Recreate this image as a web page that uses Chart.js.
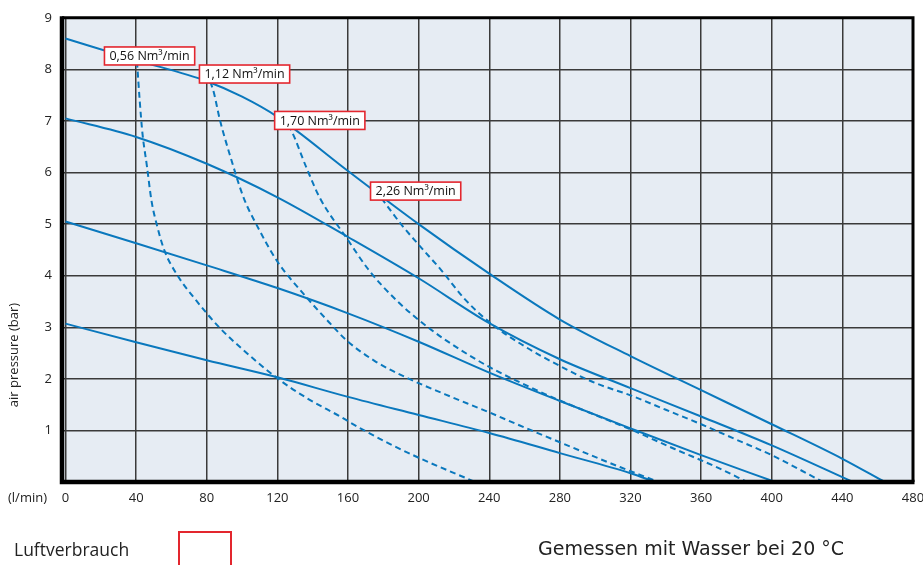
<!DOCTYPE html>
<html lang="de">
<head>
<meta charset="UTF-8">
<title>Kennlinie</title>
<script src="https://cdn.jsdelivr.net/npm/chart.js"></script>
<style>
  html, body { margin: 0; padding: 0; background: #fff; }
  #wrap { position: relative; width: 923px; height: 565px; overflow: hidden; }
  #curveChart { position: absolute; left: 0; top: 0; }
  .note { position: absolute; color: #222; white-space: nowrap; }
</style>
</head>
<body>
<div id="wrap">
  <canvas id="curveChart" width="923" height="565"></canvas>
  <div class="note" style="left:14px; top:537px; font: 17.5px 'Open Sans', sans-serif;">Luftverbrauch</div>
  <div style="position:absolute; left:178px; top:531px; width:50px; height:50px; border:2px solid #e3262e;"></div>
  <div class="note" style="left:538px; top:537px; font: 19px 'DejaVu Sans', sans-serif;">Gemessen mit Wasser bei 20 °C</div>
</div>

<script>
// axis ticks
const flowTicks = [0, 40, 80, 120, 160, 200, 240, 280, 320, 360, 400, 440, 480];
const barTicks = [0, 1, 2, 3, 4, 5, 6, 7, 8, 9];

// solid pressure curves (flow l/min -> bar)
const p86Flow = [0, 40, 80, 100, 120, 160, 200, 240, 280, 320, 360, 400, 440, 464];
const p86Bar  = [8.6, 8.18, 7.77, 7.47, 7.08, 6.03, 5.0, 4.04, 3.15, 2.44, 1.78, 1.12, 0.45, 0];

const p70Flow = [0, 40, 80, 120, 160, 200, 240, 280, 320, 360, 400, 446];
const p70Bar  = [7.05, 6.69, 6.17, 5.52, 4.75, 3.95, 3.08, 2.38, 1.82, 1.27, 0.71, 0];

const p50Flow = [0, 40, 80, 120, 160, 200, 240, 280, 320, 360, 402];
const p50Bar  = [5.05, 4.63, 4.2, 3.76, 3.27, 2.72, 2.12, 1.57, 1.04, 0.52, 0];

const p30Flow = [0, 40, 80, 120, 160, 200, 240, 280, 320, 334];
const p30Bar  = [3.07, 2.71, 2.36, 2.03, 1.65, 1.3, 0.95, 0.56, 0.17, 0];

// dashed air consumption curves
const air056Flow = [40.5, 42, 43.6, 46, 48.7, 51.6, 56, 63.5, 74, 87, 100, 120, 137, 155, 167, 183, 199.4, 232];
const air056Bar  = [8.15, 7.4, 6.75, 6.15, 5.45, 5.0, 4.49, 4.0, 3.52, 3.0, 2.58, 2.01, 1.62, 1.28, 1.04, 0.75, 0.48, 0];

const air112Flow = [82, 84, 87.3, 93, 101, 108, 119.5, 136.5, 150, 159, 175, 194, 215, 240, 257, 280, 314, 336];
const air112Bar  = [7.76, 7.55, 7.04, 6.35, 5.5, 5.0, 4.3, 3.58, 3.07, 2.75, 2.35, 2.01, 1.7, 1.35, 1.1, 0.77, 0.29, 0];

const air170Flow = [122, 127, 136.5, 144, 159, 172, 187.5, 206, 222, 240, 263, 280, 300, 320, 345, 370, 386];
const air170Bar  = [7.05, 6.87, 6.09, 5.51, 4.74, 4.1, 3.52, 2.98, 2.6, 2.23, 1.84, 1.58, 1.3, 1.02, 0.64, 0.27, 0];

const air226Flow = [179, 190, 200, 213, 226, 240, 261, 280, 300, 320, 340, 360, 380, 400, 429];
const air226Bar  = [5.5, 5.0, 4.6, 4.1, 3.55, 3.1, 2.61, 2.25, 1.92, 1.68, 1.4, 1.12, 0.82, 0.52, 0];

// consumption labels (anchored in data units)
const airLabels = ['0,56', '1,12', '1,70', '2,26'];
const airLabelFlow = [47.6, 101.4, 144, 198.3];
const airLabelBar = [8.26, 7.91, 7.01, 5.64];

const blue = '#0a78bd';
const axisFont = "'Open Sans', 'Noto Sans', sans-serif";

function pts(xs, ys) {
    return xs.map((v, i) => ({ x: v, y: ys[i] }));
}

function curve(xs, ys, dashed) {
    return {
        data: pts(xs, ys),
        borderColor: blue,
        borderWidth: 2,
        borderDash: dashed ? [6, 4] : [],
        pointRadius: 0,
        cubicInterpolationMode: 'monotone',
        fill: false
    };
}

const frame = {
    id: 'frame',
    beforeDraw(chart) {
        const { ctx, chartArea: a } = chart;
        ctx.save();
        ctx.fillStyle = '#e6ecf3';
        ctx.fillRect(a.left, a.top, a.right - a.left, a.bottom - a.top);
        ctx.restore();
    },
    afterDatasetsDraw(chart) {
        const { ctx, chartArea: a, scales } = chart;
        ctx.save();
        // frame: thicker on left and bottom
        ctx.strokeStyle = '#000';
        ctx.lineWidth = 3;
        ctx.beginPath();
        ctx.moveTo(a.left, a.top);
        ctx.lineTo(a.right, a.top);
        ctx.lineTo(a.right, a.bottom);
        ctx.stroke();
        ctx.lineWidth = 4.5;
        ctx.beginPath();
        ctx.moveTo(a.left, a.top - 1.5);
        ctx.lineTo(a.left, a.bottom);
        ctx.lineTo(a.right + 1.5, a.bottom);
        ctx.stroke();

        // red framed labels
        ctx.font = "12.5px 'Open Sans', sans-serif";
        ctx.textAlign = 'center';
        ctx.textBaseline = 'middle';
        airLabels.forEach((t, i) => {
            const txt = t + ' Nm³/min';
            const px = scales.x.getPixelForValue(airLabelFlow[i]);
            const py = scales.y.getPixelForValue(airLabelBar[i]);
            const w = ctx.measureText(txt).width + 10;
            const h = 18;
            ctx.fillStyle = '#fff';
            ctx.fillRect(px - w / 2, py - h / 2, w, h);
            ctx.strokeStyle = '#e3262e';
            ctx.lineWidth = 1.6;
            ctx.strokeRect(px - w / 2, py - h / 2, w, h);
            ctx.fillStyle = '#111';
            ctx.fillText(txt, px, py + 0.5);
        });
        ctx.restore();
    },
    afterDraw(chart) {
        const { ctx, chartArea: a, scales } = chart;
        ctx.save();
        ctx.fillStyle = '#222';
        ctx.font = '13px ' + axisFont;
        ctx.textBaseline = 'middle';
        // x tick labels drawn here so they add no padding to the axis
        ctx.textAlign = 'center';
        flowTicks.forEach(v => {
            ctx.fillText(String(v), scales.x.getPixelForValue(v), a.bottom + 16);
        });
        ctx.textAlign = 'left';
        ctx.fillText('(l/min)', 8, a.bottom + 16);
        ctx.translate(14, 355);
        ctx.rotate(-Math.PI / 2);
        ctx.textAlign = 'center';
        ctx.fillText('air pressure (bar)', 0, 0);
        ctx.restore();
    }
};

const ctx = document.getElementById('curveChart').getContext('2d');

const chart = new Chart(ctx, {
    type: 'line',
    data: {
        datasets: [
            curve(p86Flow, p86Bar, false),
            curve(p70Flow, p70Bar, false),
            curve(p50Flow, p50Bar, false),
            curve(p30Flow, p30Bar, false),
            curve(air056Flow, air056Bar, true),
            curve(air112Flow, air112Bar, true),
            curve(air170Flow, air170Bar, true),
            curve(air226Flow, air226Bar, true)
        ]
    },
    options: {
        responsive: false,
        animation: false,
        layout: { padding: { top: 17, right: 10, bottom: 53, left: 0 } },
        plugins: {
            legend: { display: false },
            tooltip: { enabled: false }
        },
        scales: {
            x: {
                type: 'linear',
                min: -2,
                max: 480,
                afterBuildTicks: s => { s.ticks = flowTicks.map(v => ({ value: v })); },
                afterFit: s => { s.height = 30; },
                grid: { color: '#3a3a3a', lineWidth: 1.5, drawTicks: false },
                border: { display: false },
                ticks: { display: false }
            },
            y: {
                min: 0,
                max: 9,
                afterBuildTicks: s => { s.ticks = barTicks.map(v => ({ value: v })); },
                afterFit: s => { s.width = 62; },
                grid: { color: '#3a3a3a', lineWidth: 1.5, drawTicks: false },
                border: { display: false },
                ticks: {
                    color: '#222',
                    font: { family: axisFont, size: 13 },
                    padding: 10,
                    callback: v => (v === 0 ? '' : v)
                }
            }
        }
    },
    plugins: [frame]
});
</script>
</body>
</html>
